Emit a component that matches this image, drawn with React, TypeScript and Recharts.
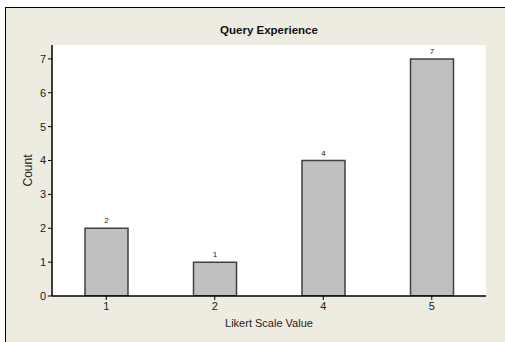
import React from 'react';
import { BarChart, Bar, XAxis, YAxis, CartesianGrid, LabelList } from 'recharts';

const categories = ['1', '2', '4', '5'];
const counts = [2, 1, 4, 7];
const yTicks = [0, 1, 2, 3, 4, 5, 6, 7];

const data = categories.map((c, i) => ({ cat: c, count: counts[i] }));

const FONT = '"Liberation Sans", Arial, sans-serif';

const YLabel = (props: any) => {
  const vb = props.viewBox || { x: 0, y: 45, width: 52, height: 251 };
  const cx = vb.x + 28;
  const cy = vb.y + vb.height / 2;
  return (
    <text x={cx} y={cy} transform={`rotate(-90 ${cx} ${cy})`} textAnchor="middle" dominantBaseline="central" fontSize={12} fontFamily={FONT} fill="#222">
      Count
    </text>
  );
};

const XLabel = (props: any) => {
  const vb = props.viewBox || { x: 52, y: 296, width: 434, height: 46 };
  const cx = vb.x + vb.width / 2;
  const cy = vb.y + 27;
  return (
    <text x={cx} y={cy} textAnchor="middle" dominantBaseline="central" fontSize={11} fontFamily={FONT} fill="#222">
      Likert Scale Value
    </text>
  );
};

export default function App() {
  return (
    <div style={{ position: 'absolute', left: 0, top: 0, width: 505, height: 342, background: '#fff', overflow: 'hidden' }}>
      <div style={{ position: 'absolute', left: 5, top: 7, right: -2, bottom: -2, background: '#EEEBE1', borderLeft: '1px solid #000', borderTop: '1px solid #000' }} />
      <div style={{ position: 'absolute', left: 52, width: 434, top: 22, textAlign: 'center', fontFamily: FONT, fontWeight: 'bold', fontSize: 11.5, color: '#111', lineHeight: '16px' }}>
        Query Experience
      </div>
      <BarChart
        width={505}
        height={342}
        data={data}
        margin={{ top: 45, right: 19, bottom: 0, left: 0 }}
        style={{ position: 'absolute', left: 0, top: 0 }}
      >
        <CartesianGrid horizontal={false} vertical={false} fill="#ffffff" />
        <XAxis
          dataKey="cat"
          height={46}
          tickSize={4}
          tick={{ fontSize: 11, fontFamily: FONT, fill: '#222' }}
          tickLine={{ stroke: '#000' }}
          axisLine={{ stroke: '#000', strokeWidth: 1.5 }}
          label={<XLabel />}
        />
        <XAxis xAxisId="top" dataKey="cat" orientation="top" height={0} tick={false} tickLine={false} axisLine={{ stroke: '#808080', strokeWidth: 2 }} />
        <YAxis
          width={52}
          domain={[0, 7.41]}
          ticks={yTicks}
          allowDataOverflow
          tickSize={4}
          tick={{ fontSize: 11, fontFamily: FONT, fill: '#222' }}
          tickLine={{ stroke: '#000' }}
          axisLine={{ stroke: '#000', strokeWidth: 1.5 }}
          label={<YLabel />}
        />
        <YAxis yAxisId="right" orientation="right" width={0} tick={false} tickLine={false} axisLine={{ stroke: '#000', strokeWidth: 1.5 }} />
        <Bar dataKey="count" fill="#C0C0C0" stroke="#404040" strokeWidth={1.5} barSize={43} isAnimationActive={false}>
          <LabelList dataKey="count" position="top" offset={5} fontSize={8} fontFamily={FONT} fill="#222" />
        </Bar>
      </BarChart>
    </div>
  );
}
